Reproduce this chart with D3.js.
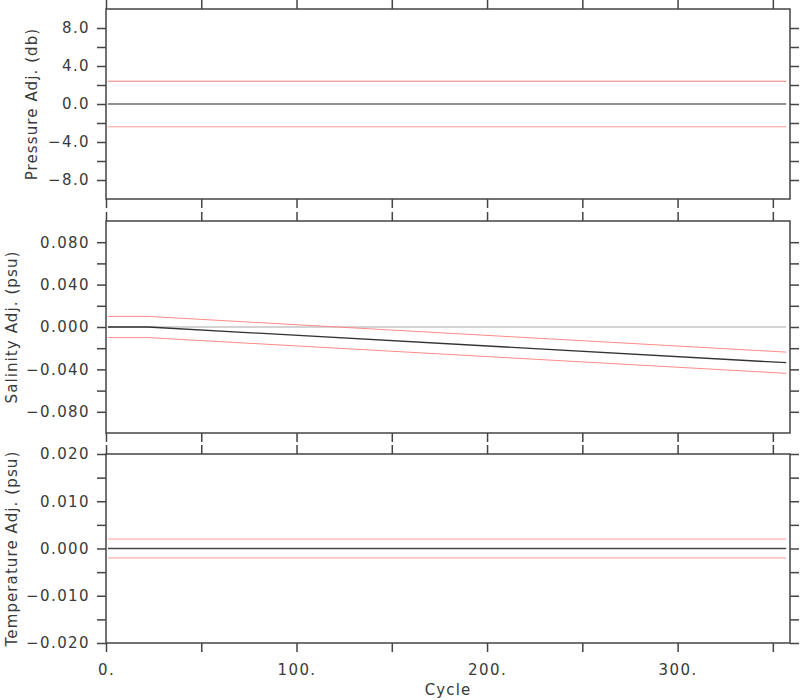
<!DOCTYPE html>
<html>
<head>
<meta charset="utf-8">
<script src="https://cdn.jsdelivr.net/npm/d3@7"></script>
<style>
  html, body { margin: 0; padding: 0; background: #fff; }
  svg { display: block; }
  text { font-family: "DejaVu Sans", sans-serif; fill: #3a3a3a; }
</style>
</head>
<body>
<svg id="chart" width="800" height="700"></svg>
<script>
// ---------------- data ----------------
const cycleDomain = [0, 359];
const xTicks = [0, 50, 100, 150, 200, 250, 300, 350];
const xLabelTicks = [0, 100, 200, 300];

// Pressure adjustment (db)
const presCycles = [1, 357];
const presAdj = [0, 0];
const presUpper = [2.4, 2.4];
const presLower = [-2.4, -2.4];
const presDomain = [-10, 10];
const presTicks = [-8, -6, -4, -2, 0, 2, 4, 6, 8];
const presLabels = [-8, -4, 0, 4, 8];

// Salinity adjustment (psu)
const salCycles = [1, 22, 357];
const salAdj = [0, 0, -0.0337];
const salUpper = [0.0100, 0.0100, -0.0237];
const salLower = [-0.0100, -0.0100, -0.0437];
const salRef = [0, 0, 0];
const salDomain = [-0.1, 0.1];
const salTicks = [-0.08, -0.06, -0.04, -0.02, 0, 0.02, 0.04, 0.06, 0.08];
const salLabels = [-0.08, -0.04, 0, 0.04, 0.08];

// Temperature adjustment
const tempCycles = [1, 357];
const tempAdj = [0, 0];
const tempUpper = [0.002, 0.002];
const tempLower = [-0.002, -0.002];
const tempDomain = [-0.02, 0.02];
const tempTicks = [-0.02, -0.015, -0.01, -0.005, 0, 0.005, 0.01, 0.015, 0.02];
const tempLabels = [-0.02, -0.01, 0, 0.01, 0.02];

// ---------------- layout ----------------
const svg = d3.select("#chart");
const L = 106, R = 790;
const x = d3.scaleLinear().domain(cycleDomain).range([L, R]);
const TICK = 9;
const axisColor = "#444";
const FS = "15px", LS = "1.4px";

const panels = [
  { top: 9, bottom: 199, domain: presDomain, ticks: presTicks, labels: presLabels, fmt: d3.format(".1f"),
    title: "Pressure Adj. (db)", titleX: 37,
    lines: [
      { c: presCycles, v: presUpper, color: "#f08080", w: 1 },
      { c: presCycles, v: presLower, color: "#ff9a9a", w: 1 },
      { c: presCycles, v: presAdj, color: "#222", w: 1.2 }
    ] },
  { top: 221, bottom: 433, domain: salDomain, ticks: salTicks, labels: salLabels, fmt: d3.format(".3f"),
    title: "Salinity Adj. (psu)", titleX: 17,
    lines: [
      { c: salCycles, v: salRef, color: "#c4c4c4", w: 1.5 },
      { c: salCycles, v: salUpper, color: "#ff8a8a", w: 1 },
      { c: salCycles, v: salLower, color: "#ff8a8a", w: 1 },
      { c: salCycles, v: salAdj, color: "#333", w: 1.3 }
    ] },
  { top: 454, bottom: 643, domain: tempDomain, ticks: tempTicks, labels: tempLabels, fmt: d3.format(".3f"),
    title: "Temperature Adj. (psu)", titleX: 17,
    lines: [
      { c: tempCycles, v: tempUpper, color: "#ff9a9a", w: 1 },
      { c: tempCycles, v: tempLower, color: "#ff9a9a", w: 1 },
      { c: tempCycles, v: tempAdj, color: "#444", w: 1.6 }
    ] }
];

const isIn = (arr, v) => arr.some(a => Math.abs(a - v) < 1e-9);

panels.forEach((p, i) => {
  const y = d3.scaleLinear().domain(p.domain).range([p.bottom, p.top]);
  const g = svg.append("g");

  // data lines
  p.lines.forEach(ln => {
    const pts = ln.c.map((c, k) => [c, ln.v[k]]);
    g.append("path")
      .datum(pts)
      .attr("fill", "none")
      .attr("stroke", ln.color)
      .attr("stroke-width", ln.w)
      .attr("d", d3.line().x(d => x(d[0])).y(d => y(d[1])));
  });

  const left = d3.axisLeft(y).tickValues(p.ticks).tickSize(TICK).tickPadding(7)
    .tickFormat(d => isIn(p.labels, d) ? p.fmt(d) : "");
  const gl = g.append("g").attr("transform", `translate(${L},0)`).call(left);
  const right = d3.axisRight(y).tickValues(p.ticks).tickSize(TICK).tickFormat("");
  const gr = g.append("g").attr("transform", `translate(${R},0)`).call(right);
  const top = d3.axisTop(x).tickValues(xTicks).tickSize(TICK).tickFormat("");
  const gt = g.append("g").attr("transform", `translate(0,${p.top})`).call(top);
  const isLast = i === panels.length - 1;
  const bottom = d3.axisBottom(x).tickValues(xTicks).tickSize(TICK).tickPadding(12)
    .tickFormat(d => (isLast && xLabelTicks.includes(d)) ? d + "." : "");
  const gb = g.append("g").attr("transform", `translate(0,${p.bottom})`).call(bottom);

  [gl, gr, gt, gb].forEach(a => {
    a.selectAll(".domain").remove();
    a.selectAll("line").attr("stroke", axisColor).attr("stroke-width", 1.5);
    a.selectAll("text").style("font-family", "DejaVu Sans, sans-serif")
      .style("font-size", FS).style("letter-spacing", LS).attr("fill", "#3a3a3a");
  });
  // remove empty tick labels for edge values not in tick list
  gl.selectAll("text").filter(function () { return this.textContent === ""; }).remove();

  g.append("rect").attr("x", L).attr("y", p.top).attr("width", R - L).attr("height", p.bottom - p.top)
    .attr("fill", "none").attr("stroke", axisColor).attr("stroke-width", 1.5);

  g.append("text")
    .attr("transform", `translate(${p.titleX},${(p.top + p.bottom) / 2}) rotate(-90)`)
    .attr("text-anchor", "middle")
    .style("font-size", FS).style("letter-spacing", "1.1px")
    .text(p.title);
});

svg.append("text").attr("x", (L + R) / 2).attr("y", 695).attr("text-anchor", "middle")
  .style("font-size", FS).style("letter-spacing", "1.1px").text("Cycle");
</script>
</body>
</html>
